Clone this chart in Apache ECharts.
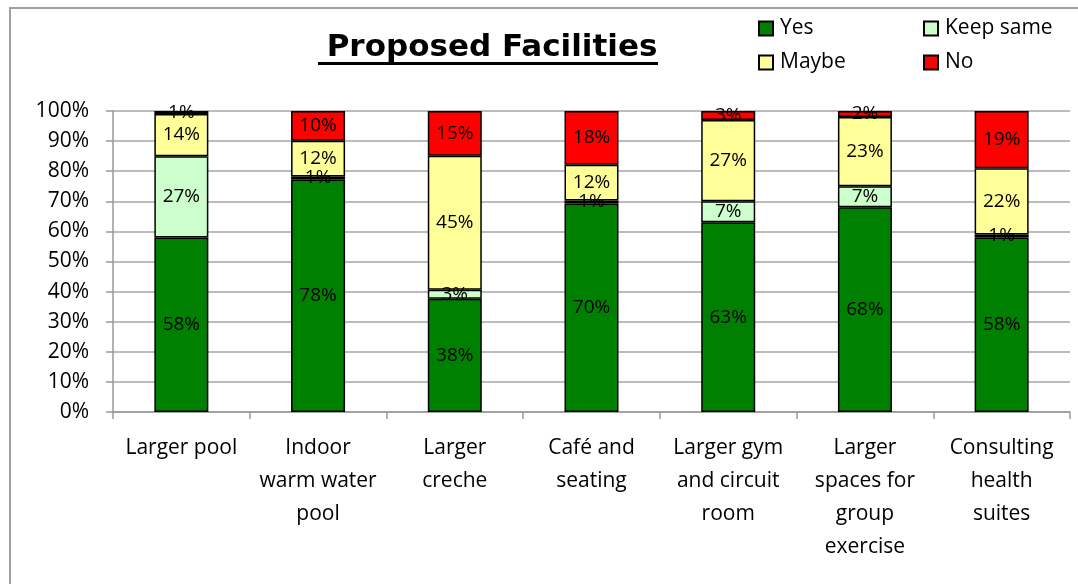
<!DOCTYPE html>
<html>
<head>
<meta charset="utf-8">
<title>Proposed Facilities</title>
<script src="https://cdn.jsdelivr.net/npm/echarts@6/dist/echarts.min.js"></script>
<style>
  html, body { margin: 0; padding: 0; background: #fff; }
  #chart { width: 1078px; height: 584px; }
</style>
</head>
<body>
<div id="chart"></div>
<script>
// categories and answers (percent labels)
const categories = [
  'Larger pool',
  'Indoor\nwarm water\npool',
  'Larger\ncreche',
  'Café and\nseating',
  'Larger gym\nand circuit\nroom',
  'Larger\nspaces for\ngroup\nexercise',
  'Consulting\nhealth\nsuites'
]
const yes = [58, 78, 38, 70, 63, 68, 58]
const keepSame = [27, 1, 3, 1, 7, 7, 1]
const maybe = [14, 12, 45, 12, 27, 23, 22]
const no = [1, 10, 15, 18, 3, 2, 19]
const seriesNames = ['Yes', 'Keep same', 'Maybe', 'No']
const seriesColors = ['#008000', '#ccffcc', '#ffff99', '#ff0000']
const yTicks = [0, 10, 20, 30, 40, 50, 60, 70, 80, 90, 100]

const raw = [yes, keepSame, maybe, no]
// 100% stacked: every column is scaled to its own total, like the spreadsheet does
const totals = categories.map((_, i) => raw.reduce((s, arr) => s + arr[i], 0))

const font = 'Open Sans'

const chart = echarts.init(document.getElementById('chart'), null, { renderer: 'canvas' })

const legendPos = [
  { left: 753, top: 13 },
  { left: 918, top: 13 },
  { left: 753, top: 47 },
  { left: 918, top: 47 }
]

const option = {
  backgroundColor: '#fff',
  animation: false,
  title: {
    text: 'Proposed Facilities',
    left: 487,
    textAlign: 'center',
    top: 27,
    textStyle: {
      fontFamily: 'DejaVu Sans',
      fontSize: 31,
      fontWeight: 'bold',
      color: '#000'
    }
  },
  graphic: [
    {
      type: 'rect',
      shape: { x: 10, y: 8, width: 1200, height: 700 },
      style: { fill: 'none', stroke: '#a0a0a0', lineWidth: 2 },
      silent: true
    },
    {
      type: 'rect',
      shape: { x: 318, y: 62, width: 340, height: 3 },
      style: { fill: '#000' },
      silent: true
    }
  ],
  legend: seriesNames.map((name, i) => ({
    data: [name],
    left: legendPos[i].left,
    top: legendPos[i].top,
    icon: 'rect',
    itemWidth: 14,
    itemHeight: 14,
    itemGap: 0,
    selectedMode: false,
    textStyle: { fontFamily: font, fontSize: 21, color: '#000', padding: [0, 0, 0, 2] }
  })),
  grid: {
    left: 113,
    right: 8,
    top: 111,
    bottom: 172,
    containLabel: false
  },
  xAxis: {
    type: 'category',
    data: categories,
    axisLine: { lineStyle: { color: '#999', width: 1.5 } },
    axisTick: { show: true, length: 7, lineStyle: { color: '#999', width: 1.5 } },
    axisLabel: {
      interval: 0,
      margin: 20,
      fontFamily: font,
      fontSize: 21,
      lineHeight: 33,
      color: '#000'
    }
  },
  yAxis: {
    type: 'value',
    min: yTicks[0],
    max: yTicks[yTicks.length - 1],
    interval: 10,
    axisLine: { show: true, lineStyle: { color: '#999', width: 1.5 } },
    axisTick: { show: true, length: 7, lineStyle: { color: '#999', width: 1.5 } },
    splitLine: { lineStyle: { color: '#a6a6a6', width: 1.5 } },
    axisLabel: {
      margin: 24,
      fontFamily: font,
      fontSize: 21,
      color: '#000',
      formatter: '{value}%'
    }
  },
  series: seriesNames.map((name, s) => ({
    name: name,
    type: 'bar',
    stack: 'total',
    barWidth: 54,
    data: raw[s].map((v, i) => v * 100 / totals[i]),
    itemStyle: {
      color: seriesColors[s],
      borderColor: '#000',
      borderWidth: 1.5
    },
    label: {
      show: true,
      position: 'inside',
      fontFamily: font,
      fontSize: 19,
      color: '#000',
      formatter: (p) => raw[s][p.dataIndex] + '%'
    }
  }))
}

chart.setOption(option)
</script>
</body>
</html>
